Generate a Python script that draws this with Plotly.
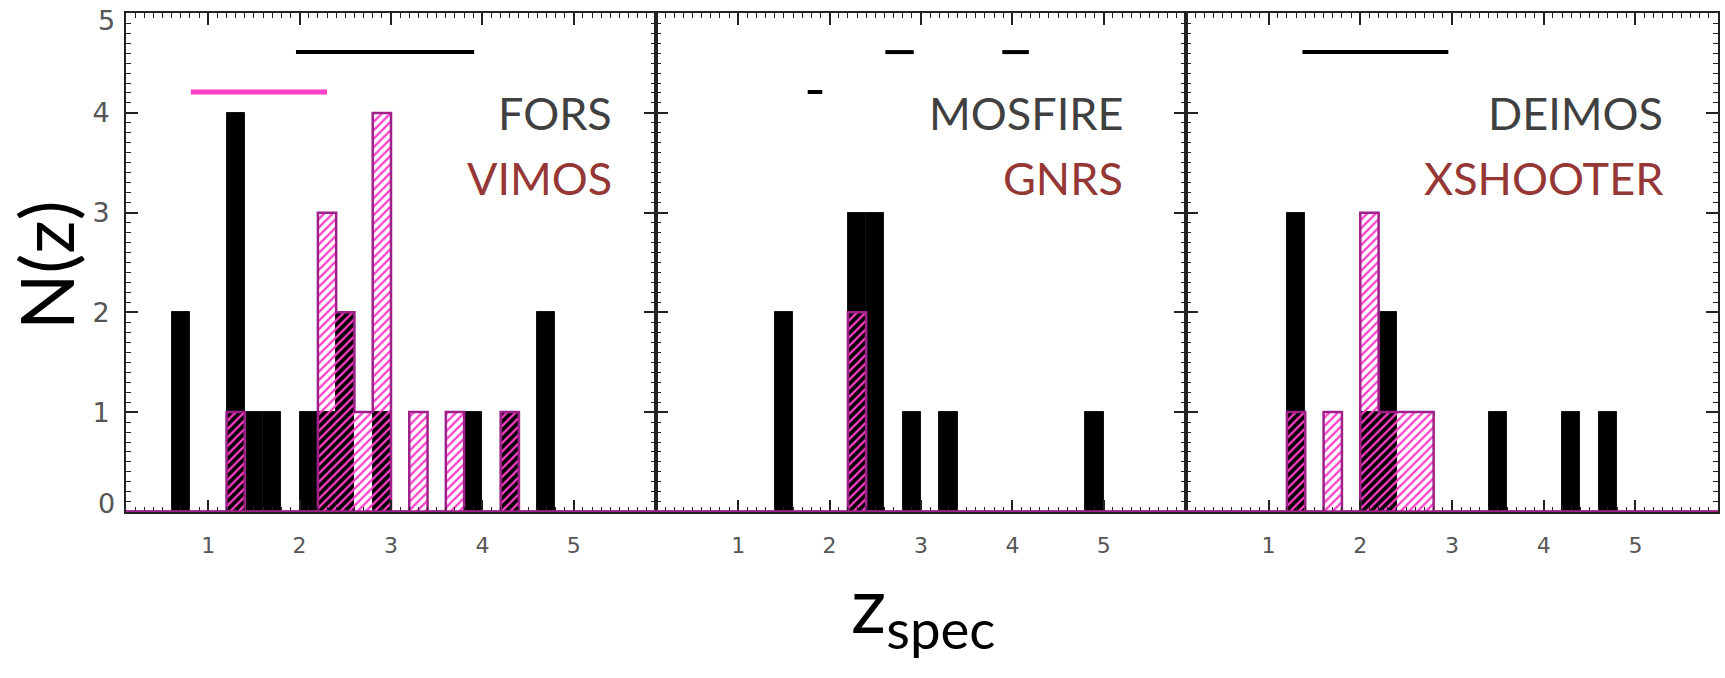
import plotly.graph_objects as go

# ---------------- data ----------------
bin_width = 0.2
n_bins = 30  # bins from z = 0 to 6

# Panel 1
fors_z = [0.7, 1.3, 1.5, 1.7, 2.1, 2.3, 2.5, 2.9, 3.9, 4.3, 4.7]
fors_n = [2, 4, 1, 1, 1, 1, 2, 1, 1, 1, 2]
vimos_z = [1.3, 2.3, 2.5, 2.7, 2.9, 3.3, 3.7, 4.3]
vimos_n = [1, 3, 2, 1, 4, 1, 1, 1]

# Panel 2
mosfire_z = [1.5, 2.3, 2.5, 2.9, 3.3, 4.9]
mosfire_n = [2, 3, 3, 1, 1, 1]
gnrs_z = [2.3]
gnrs_n = [2]

# Panel 3
deimos_z = [1.3, 2.1, 2.3, 3.5, 4.3, 4.7]
deimos_n = [3, 1, 2, 1, 1, 1]
xshooter_z = [1.3, 1.7, 2.1, 2.3, 2.5, 2.7]
xshooter_n = [1, 1, 3, 1, 1, 1]

# redshift-range bars at the top
range_panel = [1, 1, 2, 2, 2, 3]
range_start = [1.96, 0.81, 2.61, 3.89, 1.76, 1.37]
range_end = [3.91, 2.30, 2.92, 4.18, 1.92, 2.96]
range_level = [4.61, 4.21, 4.61, 4.61, 4.21, 4.61]
range_kind = ["black", "pink", "black", "black", "black", "black"]

labels_top = ["FORS", "MOSFIRE", "DEIMOS"]
labels_bottom = ["VIMOS", "GNRS", "XSHOOTER"]

x_ticks = [1, 2, 3, 4, 5]
y_ticks = [0, 1, 2, 3, 4, 5]

# ---------------- style ----------------
W, H = 1725, 678
BLACK = "#000000"
HATCH = "#ff3fc8"
EDGE = "#a0208a"
PINKLINE = "#ff3fc8"
AXIS = "#222222"
TICKGRAY = "#555555"

fig = go.Figure()

panels = [
    (fors_z, fors_n, vimos_z, vimos_n),
    (mosfire_z, mosfire_n, gnrs_z, gnrs_n),
    (deimos_z, deimos_n, xshooter_z, xshooter_n),
]


def step_outline(zc, nc):
    counts = [0] * n_bins
    for z, n in zip(zc, nc):
        counts[int(round((z - bin_width / 2) / bin_width))] = n
    edges = [k * bin_width for k in range(n_bins + 1)]
    return edges, counts + [counts[-1]]


for i, (bz, bn, pz, pn) in enumerate(panels):
    xa = "x" if i == 0 else f"x{i+1}"
    ya = "y" if i == 0 else f"y{i+1}"
    fig.add_trace(go.Bar(
        x=bz, y=bn, width=bin_width, xaxis=xa, yaxis=ya,
        marker=dict(color=BLACK, line=dict(color="#111111", width=1)),
        showlegend=False, hoverinfo="x+y",
    ))
    fig.add_trace(go.Bar(
        x=pz, y=pn, width=bin_width, xaxis=xa, yaxis=ya,
        marker=dict(
            color="rgba(0,0,0,0)",
            line=dict(color="rgba(0,0,0,0)", width=0),
            pattern=dict(shape="/", fgcolor=HATCH, bgcolor="rgba(0,0,0,0)",
                         size=6, solidity=0.38, fillmode="replace"),
        ),
        showlegend=False, hoverinfo="x+y",
    ))
    ex, ey = step_outline(pz, pn)
    fig.add_trace(go.Scatter(
        x=ex, y=ey, mode="lines", line_shape="hv", xaxis=xa, yaxis=ya,
        line=dict(color=EDGE, width=2.5), showlegend=False, hoverinfo="skip",
    ))

for p, s, e, lv, k in zip(range_panel, range_start, range_end, range_level, range_kind):
    xa = "x" if p == 1 else f"x{p}"
    ya = "y" if p == 1 else f"y{p}"
    fig.add_trace(go.Scatter(
        x=[s, e], y=[lv, lv], mode="lines", xaxis=xa, yaxis=ya,
        line=dict(color=BLACK if k == "black" else PINKLINE, width=4 if k == "black" else 5),
        showlegend=False, hoverinfo="skip",
    ))

# axes geometry
x_domains = [
    (126 / W, 656 / W),
    (656 / W, 1186 / W),
    (1186 / W, 1718 / W),
]
y_domain = (1 - 512 / H, 1 - 13 / H)
y_range = [-0.002, 5.002]

layout = dict(
    width=W, height=H,
    margin=dict(l=0, r=0, t=0, b=0, autoexpand=False),
    paper_bgcolor="white", plot_bgcolor="white",
    barmode="overlay", bargap=0,
    showlegend=False,
    font=dict(family="Open Sans, DejaVu Sans, sans-serif"),
)

# inner y labels are drawn by the axis; the two end labels are nudged inside
inner_y = [t for t in y_ticks if y_range[0] + 0.01 < t < y_range[1] - 0.01]
edge_y = [t for t in y_ticks if t not in inner_y]

for i in range(3):
    xk = "xaxis" if i == 0 else f"xaxis{i+1}"
    yk = "yaxis" if i == 0 else f"yaxis{i+1}"
    layout[xk] = dict(
        domain=list(x_domains[i]), range=[0.1, 5.9],
        anchor="y" if i == 0 else f"y{i+1}",
        automargin=False,
        tickmode="array", tickvals=x_ticks, ticktext=[str(t) for t in x_ticks],
        ticks="inside", ticklen=12, tickwidth=1.5, tickcolor=AXIS,
        minor=dict(ticks="inside", ticklen=5, tickwidth=1.2, tickcolor=AXIS, dtick=0.1, tick0=0, showgrid=False),
        showline=True, linecolor=AXIS, linewidth=2, mirror="allticks",
        showgrid=False, zeroline=False,
        tickfont=dict(size=22, color=TICKGRAY, family="DejaVu Sans"),
        ticklabelstandoff=13,
        ticklabeloverflow="allow",
    )
    layout[yk] = dict(
        domain=list(y_domain), range=y_range,
        anchor="x" if i == 0 else f"x{i+1}",
        automargin=False,
        tickmode="array", tickvals=inner_y, ticktext=[str(t) for t in inner_y],
        showticklabels=(i == 0),
        ticks="inside", ticklen=12, tickwidth=1.5, tickcolor=AXIS,
        minor=dict(ticks="inside", ticklen=5, tickwidth=1.2, tickcolor=AXIS, dtick=0.1, tick0=0, showgrid=False),
        showline=True, linecolor=AXIS, linewidth=2, mirror="allticks",
        showgrid=False, zeroline=False,
        tickfont=dict(size=27, color=TICKGRAY, family="DejaVu Sans"),
        ticklabelstandoff=9,
        ticklabeloverflow="allow",
    )

fig.update_layout(**layout)

# magenta baselines at N=0
shapes = []
for i in range(3):
    xr = "x domain" if i == 0 else f"x{i+1} domain"
    yr = "y" if i == 0 else f"y{i+1}"
    shapes.append(dict(type="line", xref=xr, yref=yr, x0=0, x1=1, y0=0, y1=0,
                       line=dict(color=EDGE, width=3), layer="above"))
fig.update_layout(shapes=shapes)

annotations = []
# end y tick labels (0 and 5), kept inside the frame like the original
for t in edge_y:
    annotations.append(dict(text=str(t), xref="paper", yref="y", x=(126 - 9) / W,
                            y=t + (0.08 if t < 2.5 else -0.07),
                            xanchor="right", yanchor="middle", showarrow=False,
                            font=dict(size=27, color=TICKGRAY, family="DejaVu Sans")))

# instrument labels
lab_x = [0.921, 0.885, 0.90]
for i in range(3):
    xr = "x domain" if i == 0 else f"x{i+1} domain"
    yr = "y" if i == 0 else f"y{i+1}"
    annotations.append(dict(text=labels_top[i], xref=xr, yref=yr, x=lab_x[i], y=3.995,
                            xanchor="right", yanchor="middle", showarrow=False,
                            font=dict(family="Lato, Open Sans, sans-serif", size=45, color="#404040")))
    annotations.append(dict(text=labels_bottom[i], xref=xr, yref=yr, x=lab_x[i], y=3.345,
                            xanchor="right", yanchor="middle", showarrow=False,
                            font=dict(family="Lato, Open Sans, sans-serif", size=45, color="#953735")))

# axis titles
annotations.append(dict(text="N(z)", xref="paper", yref="paper", x=45 / W, y=1 - 266 / H,
                        xanchor="center", yanchor="middle", textangle=-90, showarrow=False,
                        font=dict(family="Lato, Open Sans, sans-serif", size=74, color="black")))
annotations.append(dict(text="z<sub>spec</sub>", xref="paper", yref="paper", x=923 / W, y=15 / H,
                        xanchor="center", yanchor="bottom", showarrow=False,
                        font=dict(family="Lato, Open Sans, sans-serif", size=78, color="black")))
fig.update_layout(annotations=annotations)

fig.write_html("out.html")
